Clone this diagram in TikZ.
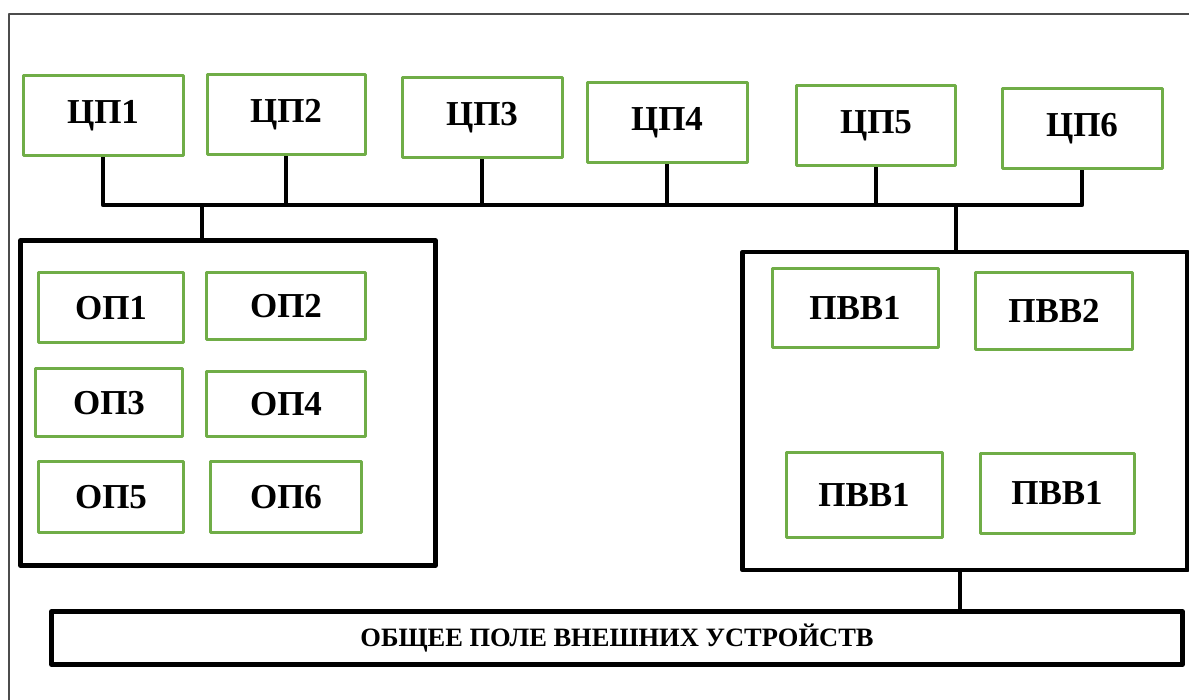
\documentclass[tikz,border=0pt]{standalone}
\usepackage{fontspec}
\setmainfont{Liberation Serif}
\usetikzlibrary{positioning}
\definecolor{boxgreen}{RGB}{112,173,71}
\begin{document}
\begin{tikzpicture}[x=1pt,y=-1pt,line join=round,
	unit/.style={draw=boxgreen,line width=3pt,inner sep=0pt,
		font=\fontsize{35}{35}\selectfont\bfseries,
		minimum width=160pt,minimum height=80pt},
	opunit/.style={unit,minimum width=147pt,minimum height=68pt},
	frame/.style={draw=black,line width=4.5pt,inner sep=0pt},
	link/.style={line width=4.5pt}]
	\useasboundingbox (0,0) rectangle (1189,700);
	\draw[gray!60!black,line width=1.5pt] (9,700) -- (9,14) -- (1189,14);
	\node[unit] (c1) at (103,116) {ЦП1};
	\node[unit,minimum width=158pt] (c2) at (286,115) {ЦП2};
	\node[unit] (c3) at (482,118) {ЦП3};
	\node[unit] (c4) at (667,123) {ЦП4};
	\node[unit,minimum width=159pt] (c5) at (876,126) {ЦП5};
	\node[unit] (c6) at (1082,129) {ЦП6};
	\node[frame,minimum width=415pt,minimum height=325pt] (lbox) at (228,403) {};
	\node[frame,minimum width=445pt,minimum height=318pt] (rbox) at (965,411) {};
	\node[frame,minimum width=1131pt,minimum height=53pt,
		font=\fontsize{26.5}{26.5}\selectfont\bfseries] (bar) at (617,638) {ОБЩЕЕ ПОЛЕ ВНЕШНИХ УСТРОЙСТВ};
	\node[opunit,minimum width=145pt,minimum height=70pt] (o1) at (111,308) {ОП1};
	\node[opunit,minimum width=159pt,minimum height=67pt] (o2) at (286,306) {ОП2};
	\node[opunit] (o3) at (109,403) {ОП3};
	\node[opunit,minimum width=159pt,minimum height=65pt] (o4) at (286,404) {ОП4};
	\node[opunit,minimum width=145pt,minimum height=71pt] (o5) at (111,497) {ОП5};
	\node[opunit,minimum width=151pt,minimum height=71pt] (o6) at (286,497) {ОП6};
	\node[unit,minimum width=166pt,minimum height=79pt] (p1) at (855,308) {ПВВ1};
	\node[unit,minimum width=157pt,minimum height=77pt] (p2) at (1054,311) {ПВВ2};
	\node[unit,minimum width=156pt,minimum height=85pt] (p3) at (864,495) {ПВВ1};
	\node[unit,minimum width=154pt] (p4) at (1057,493) {ПВВ1};
	\coordinate (bus) at (0,205);
	\coordinate (lt) at (202,205);
	\coordinate (rt) at (956,205);
	\coordinate (rb) at (960,0);
	\draw[link] (c1.south) -- (c1.south |- bus) -- (c6.south |- bus) -- (c6.south);
	\foreach \n in {c2,c3,c4,c5}
		\draw[link] (\n.south) -- (\n.south |- bus);
	\draw[link] (lt) -- (lt |- lbox.north);
	\draw[link] (rt) -- (rt |- rbox.north);
	\draw[link] (rbox.south -| rb) -- (bar.north -| rb);
\end{tikzpicture}
\end{document}
